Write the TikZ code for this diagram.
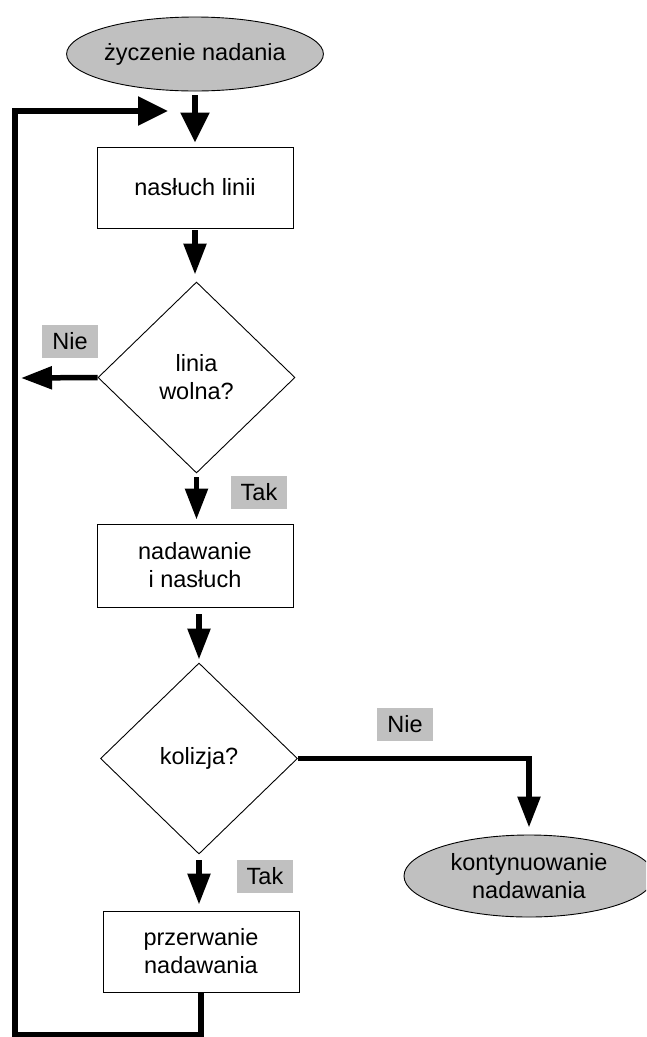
\documentclass[tikz,border=0pt]{standalone}
\usepackage{fontspec}
\setmainfont{Liberation Sans}
\usetikzlibrary{shapes.geometric,arrows.meta}

\definecolor{termgray}{RGB}{192,192,192}

\tikzset{
  txt/.style={font=\fontsize{23.5}{28}\selectfont, align=center, inner sep=0pt},
  terminal/.style={txt, ellipse, draw=black, line width=0.9pt, fill=termgray},
  procbox/.style={txt, rectangle, draw=black, line width=0.9pt, fill=white},
  decision/.style={txt, diamond, draw=black, line width=0.9pt, fill=white,
    minimum width=197pt, minimum height=191pt},
  answer/.style={txt, fill=termgray, minimum width=56pt, minimum height=33pt},
  flow/.style={line width=5.5pt, -{Triangle[width=22pt,length=31pt]}},
  bigflow/.style={line width=5.5pt, -{Triangle[width=28pt,length=30pt]}},
  link/.style={line width=5.5pt}
}

\begin{document}
\begin{tikzpicture}[x=1pt,y=-1pt]
  \useasboundingbox (0,0) rectangle (646,1037);
  \clip (0,0) rectangle (646,1037);

  % start / end terminals
  \node[terminal, minimum width=252pt, minimum height=74pt] (start) at (195,54) {życzenie nadania};
  \node[terminal, minimum width=250pt, minimum height=82pt] (cont) at (529,876) {kontynuowanie\\nadawania};

  % process steps
  \node[procbox, minimum width=196pt, minimum height=81pt] (listen) at (195,187.5) {nasłuch linii};
  \node[procbox, minimum width=196pt, minimum height=83pt] (send) at (195,565.5) {nadawanie\\i nasłuch};
  \node[procbox, minimum width=196pt, minimum height=81pt] (abort) at (201,951.5) {przerwanie\\nadawania};

  % decisions
  \node[decision] (free) at (196.5,377.5) {linia\\wolna?};
  \node[decision] (coll) at (199,758.5) {kolizja?};

  % branch labels
  \node[answer] (nie1) at (70,341.5) {Nie};
  \node[answer] (tak1) at (259,492.5) {Tak};
  \node[answer] (nie2) at (405,724.5) {Nie};
  \node[answer] (tak2) at (265,876.5) {Tak};

  % helper points of the loop back to the top
  \coordinate (loopin) at (168,111);
  \coordinate (leftend) at (21,378);
  \coordinate (bl) at (15,1035);
  \coordinate (tl) at (15,111);

  % main flow
  \draw[bigflow, shorten <=4pt, shorten >=4pt] (start.south) -- (start.south |- listen.north);
  \draw[flow, shorten <=2pt, shorten >=7pt] (listen.south) -- (listen.south |- free.north);
  \draw[flow, shorten <=4pt, shorten >=4pt] (free.south) -- (free.south |- send.north);
  \draw[flow, shorten <=7pt, shorten >=3pt] (send.south -| coll.north) -- (coll.north);
  \draw[flow, shorten <=6pt, shorten >=6pt] (coll.south) -- (coll.south |- abort.north);

  % "Nie" branch of the line check
  \draw[flow] (free.west) -- (leftend);

  % "Nie" branch of the collision check
  \draw[flow, shorten >=7pt] (coll.east) -| (cont.north);

  % loop back after aborting
  \draw[link] (abort.south) -- (abort.south |- bl) -- (bl) -- (tl);
  \draw[bigflow] ([xshift=-2.75pt]tl) -- (loopin);
\end{tikzpicture}
\end{document}
